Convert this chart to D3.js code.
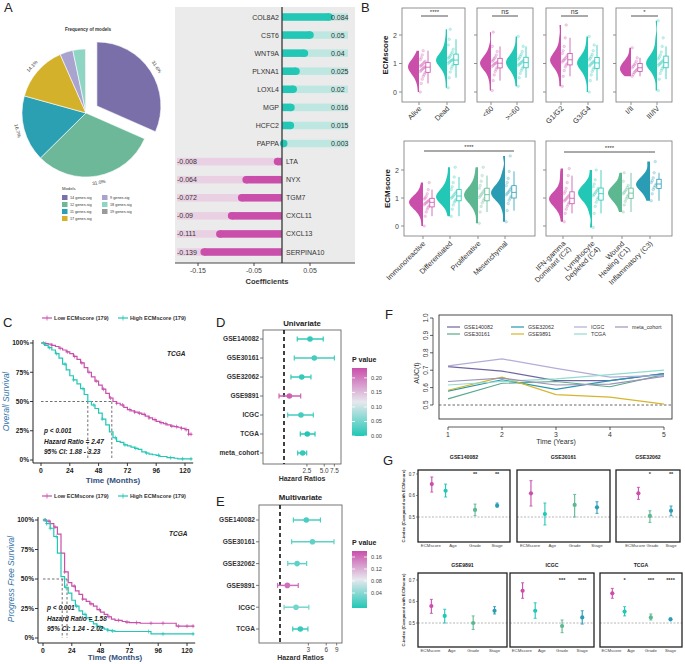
<!DOCTYPE html>
<html><head><meta charset="utf-8">
<script src="https://cdn.jsdelivr.net/npm/d3@7"></script>
<style>body{margin:0;background:#fff}svg{display:block;font-family:"Liberation Sans",Arial,sans-serif}</style>
</head><body><svg id="c" width="685" height="664"></svg>
<script>
// ===================== DATA =====================
// A – pie of model frequency
const pieModels = ["14 genes.sig","12 genes.sig","11 genes.sig","17 genes.sig","9 genes.sig","18 genes.sig","19 genes.sig"];
const piePercent = [31.6, 31.0, 16.7, 14.1, 3.3, 3.2, 0.1];
// A – coefficients
const coefGenes = ["COL8A2","CST6","WNT9A","PLXNA1","LOXL4","MGP","HCFC2","PAPPA","LTA","NYX","TGM7","CXCL11","CXCL13","SERPINA10"];
const coefValues = [0.084,0.05,0.04,0.025,0.02,0.016,0.015,0.003,-0.008,-0.064,-0.072,-0.09,-0.111,-0.139];
const coefTicks = [-0.15,-0.05,0.05];
// B – ECMscore samples (estimated)
const scoreAlive = [0.0,0.3,0.45,0.55,0.62,0.68,0.72,0.76,0.8,0.83,0.86,0.88,0.9,0.93,0.96,1.0,1.04,1.08,1.13,1.2,1.3,1.45];
const scoreDead = [0.15,0.5,0.7,0.82,0.9,0.96,1.0,1.04,1.08,1.1,1.12,1.15,1.18,1.22,1.27,1.33,1.4,1.5,1.65,1.85,2.2];
const scoreLt60 = [0.05,0.4,0.6,0.72,0.8,0.86,0.9,0.94,0.98,1.0,1.02,1.05,1.08,1.12,1.17,1.22,1.3,1.42,1.6,2.1];
const scoreGe60 = [0.2,0.5,0.65,0.75,0.82,0.88,0.93,0.97,1.0,1.03,1.06,1.1,1.14,1.19,1.25,1.32,1.42,1.6,1.95];
const scoreG12 = [0.2,0.55,0.75,0.88,0.95,1.0,1.05,1.1,1.13,1.17,1.22,1.28,1.35,1.45,1.6,1.9,2.35];
const scoreG34 = [0.0,0.4,0.6,0.72,0.8,0.86,0.91,0.95,0.99,1.02,1.05,1.09,1.13,1.18,1.24,1.32,1.45,1.65,1.95];
const scoreS12 = [0.55,0.62,0.68,0.72,0.76,0.8,0.85,0.9,0.95,1.0,1.08,1.2,1.55];
const scoreS34 = [0.05,0.45,0.65,0.75,0.82,0.88,0.93,0.97,1.0,1.03,1.07,1.11,1.16,1.22,1.3,1.4,1.6,1.9,2.5];
const scoreImmuno = [0.0,0.35,0.5,0.6,0.67,0.72,0.76,0.8,0.83,0.86,0.89,0.92,0.96,1.0,1.06,1.15,1.3,1.55];
const scoreDiff = [0.35,0.6,0.75,0.85,0.9,0.95,0.99,1.03,1.07,1.12,1.17,1.22,1.3,1.4,1.55,1.75,2.1];
const scoreProlif = [0.1,0.5,0.7,0.82,0.9,0.97,1.02,1.07,1.12,1.17,1.22,1.28,1.35,1.45,1.6,1.8,2.1];
const scoreMesen = [0.15,0.55,0.8,0.92,1.0,1.06,1.11,1.16,1.2,1.25,1.3,1.36,1.44,1.55,1.7,1.95,2.5];
const scoreIFN = [0.15,0.45,0.6,0.7,0.78,0.84,0.89,0.93,0.97,1.01,1.05,1.1,1.16,1.24,1.35,1.55,1.8,2.05];
const scoreLymph = [-0.05,0.45,0.7,0.85,0.95,1.02,1.08,1.13,1.18,1.23,1.28,1.34,1.4,1.5,1.65,2.0];
const scoreWound = [0.5,0.75,0.88,0.97,1.04,1.1,1.15,1.2,1.25,1.3,1.37,1.45,1.6,1.9];
const scoreInflam = [0.9,1.15,1.3,1.38,1.44,1.5,1.55,1.62,1.72,1.9,2.3];
// C – Kaplan-Meier (months, survival)
const kmTime = [0,3,6,9,12,15,18,21,24,27,30,33,36,39,42,45,48,51,54,57,60,63,66,69,72,75,78,81,84,87,90,93,96,99,102,105,108,111,114,117,120,123,126];
const osLow = [1,0.995,0.99,0.98,0.97,0.955,0.94,0.925,0.91,0.885,0.86,0.83,0.79,0.75,0.71,0.675,0.64,0.605,0.57,0.53,0.5,0.485,0.47,0.45,0.43,0.42,0.41,0.4,0.39,0.375,0.36,0.345,0.33,0.32,0.31,0.3,0.29,0.285,0.28,0.27,0.26,0.22,0.22];
const osHigh = [1,0.98,0.96,0.94,0.91,0.87,0.82,0.77,0.72,0.685,0.65,0.61,0.56,0.5,0.47,0.44,0.4,0.35,0.3,0.24,0.19,0.16,0.15,0.13,0.12,0.11,0.1,0.09,0.07,0.06,0.05,0.045,0.04,0.03,0.03,0.02,0.02,0.015,0.01,0.01,0.01,0.01,0.01];
const pfsLow = [1,0.99,0.97,0.94,0.88,0.72,0.56,0.47,0.44,0.4,0.37,0.33,0.31,0.29,0.27,0.24,0.22,0.2,0.18,0.16,0.15,0.15,0.14,0.135,0.13,0.13,0.13,0.125,0.125,0.125,0.125,0.125,0.125,0.125,0.125,0.125,0.125,0.1,0.1,0.1,0.1,0.1,0.1];
const pfsHigh = [1,0.97,0.93,0.86,0.72,0.52,0.43,0.38,0.32,0.27,0.23,0.2,0.17,0.14,0.12,0.1,0.085,0.075,0.065,0.06,0.055,0.055,0.055,0.055,0.055,0.055,0.055,0.055,0.055,0.055,0.035,0.035,0.035,0.035,0.035,0.035,0.035,0.035,0.035,0.035,0.035,0.035,0.035];
const osLowCensor = [4,9,16,22,28,34,40,46,52,58,63,68,74,78,82,86,90,95,100,104,109,113,117,121,123,125];
const osHighCensor = [2,7,13,20,27,35,44,51,62,70,79,88,98,108,118,125];
const pfsLowCensor = [2,5,10,18,26,33,40,47,55,63,70,78,90,100,113,120,125];
const pfsHighCensor = [1,3,6,11,19,28,35,45,54,58,88,100,125];
const kmTicks = [0,24,48,72,96,120];
const kmPctTicks = [0,0.25,0.5,0.75,1];
// D – univariate Cox
const uniCohorts = ["GSE140082","GSE30161","GSE32062","GSE9891","ICGC","TCGA","meta_cohort"];
const uniHR = [2.83,3.36,2.03,1.24,1.97,2.54,2.11];
const uniLow = [1.70,1.51,1.32,0.82,1.16,1.92,1.73];
const uniHigh = [4.8,7.5,2.94,1.95,3.23,3.46,2.48];
const uniP = [0.01,0.02,0.01,0.22,0.02,0.0,0.01];
const uniTicks = [2.5,5.0,7.5];
const uniPTicks = [0.0,0.05,0.1,0.15,0.2];
// E – multivariate Cox
const multiCohorts = ["GSE140082","GSE30161","GSE32062","GSE9891","ICGC","TCGA"];
const multiHR = [2.77,3.52,1.94,1.33,1.86,2.2];
const multiLow = [1.68,1.57,1.35,0.91,1.17,1.64];
const multiHigh = [4.79,8.1,2.81,2.03,3.06,2.95];
const multiP = [0.01,0.02,0.02,0.16,0.03,0.0];
const multiTicks = [3,6,9];
const multiPTicks = [0.04,0.08,0.12,0.16];
// F – time-dependent AUC
const aucYears = [1,2,3,4,5];
const aucGSE140082 = [0.72,0.695,0.64,0.64,0.68];
const aucGSE30161 = [0.535,0.625,0.635,0.605,0.675];
const aucGSE32062 = [0.58,0.645,0.59,0.64,0.68];
const aucGSE9891 = [0.585,0.66,0.56,0.545,0.505];
const aucICGC = [0.725,0.765,0.71,0.66,0.67];
const aucTCGA = [0.615,0.635,0.65,0.675,0.70];
const aucMeta = [0.635,0.655,0.615,0.62,0.665];
const aucTicks = [0.5,0.6,0.7,0.8,0.9,1.0];
// G – C-index comparison
const gCohorts = ["GSE140082","GSE30161","GSE32062","GSE9891","ICGC","TCGA"];
const gVars = [["ECMscore","Age","Grade","Stage"],["ECMscore","Age","Grade","Stage"],["ECMscore","Grade","Stage"],["ECMscore","Age","Grade","Stage"],["ECMscore","Age","Grade","Stage"],["ECMscore","Age","Grade","Stage"]];
const gEst = [[0.653,0.622,0.533,0.553],[0.61,0.514,0.556,0.545],[0.61,0.505,0.529],[0.579,0.533,0.50,0.557],[0.65,0.557,0.486,0.526],[0.638,0.553,0.526,0.517]];
const gLow = [[0.616,0.593,0.506,0.546],[0.551,0.463,0.50,0.517],[0.582,0.475,0.506],[0.545,0.50,0.47,0.542],[0.615,0.522,0.455,0.495],[0.615,0.533,0.514,0.511]];
const gHigh = [[0.686,0.653,0.56,0.565],[0.669,0.565,0.605,0.571],[0.638,0.529,0.551],[0.61,0.564,0.533,0.576],[0.687,0.594,0.514,0.557],[0.661,0.576,0.542,0.523]];
const gSig = [["","","**","**"],["","","",""],["","*","**"],["","","",""],["","","***","****"],["","*","***","****"]];
const gTicks = [0.5,0.6,0.7];

// ===================== STYLE =====================
const PINK="#c94fab", TEAL="#22c7b5", SAGE="#5db892", BLUE="#2a9db5";
const pieColors = ["#7b6fa9","#6cb899","#2ba0b3","#d3b12b","#a9a3d0","#8fd5c4","#9a9a9a"];
const svg = d3.select("#c");
svg.append("rect").attr("width",685).attr("height",664).attr("fill","#fff");

function txt(g,x,y,s,o={}){
  const t=g.append("text").attr("x",x).attr("y",y).text(s)
    .attr("font-size",o.size||7).attr("fill",o.fill||"#222");
  if(o.anchor) t.attr("text-anchor",o.anchor);
  if(o.weight) t.attr("font-weight",o.weight);
  if(o.style) t.attr("font-style",o.style);
  if(o.rotate!=null) t.attr("transform",`rotate(${o.rotate},${x},${y})`);
  return t;
}
function line(g,x1,y1,x2,y2,col,w,dash){
  const l=g.append("line").attr("x1",x1).attr("y1",y1).attr("x2",x2).attr("y2",y2)
   .attr("stroke",col||"#333").attr("stroke-width",w||1);
  if(dash) l.attr("stroke-dasharray",dash);
  return l;
}
// panel letters
[["A",4,12],["B",361,12],["C",3,327],["D",216,327],["E",216,506],["F",385,319],["G",383,465]]
  .forEach(([s,x,y])=>txt(svg,x,y,s,{size:13,fill:"#222"}));

// ===================== A: PIE =====================
{
  const g=svg.append("g").attr("transform","translate(86,113)");
  const arcs=d3.pie().sort(null).value(d=>d)(piePercent);
  const arc=d3.arc().innerRadius(0).outerRadius(64);
  arcs.forEach((a,i)=>{
    const mid=(a.startAngle+a.endAngle)/2, off=i===0?13:0;
    const dx=Math.sin(mid)*off, dy=-Math.cos(mid)*off;
    g.append("path").attr("d",arc(a)).attr("transform",`translate(${dx},${dy})`)
      .attr("fill",pieColors[i]).attr("stroke","#fff").attr("stroke-width",0.6);
    if(piePercent[i]>10){
      const r=71+off, lx=Math.sin(mid)*r, ly=-Math.cos(mid)*r;
      let deg=mid*180/Math.PI; if(deg>90&&deg<270) deg-=180;
      txt(g,lx,ly,d3.format(".1f")(piePercent[i])+"%",{size:4.8,anchor:"middle",fill:"#333",rotate:deg})
        .attr("dominant-baseline","middle");
    }
  });
  txt(svg,88,31,"Frequency of models",{size:4.6,weight:"bold",anchor:"middle",fill:"#333"});
  txt(svg,62,190,"Models",{size:4.2,fill:"#333"});
  pieModels.forEach((m,i)=>{
    const col=i<4?0:1, row=i<4?i:i-4;
    const x=col?102:62, y=195+row*7;
    svg.append("rect").attr("x",x).attr("y",y).attr("width",5.5).attr("height",5).attr("fill",pieColors[i]);
    txt(svg,x+8,y+4,m,{size:3.8,fill:"#333"});
  });
  line(svg,180,85,212,85,"#222",0.9);
  svg.append("path").attr("d","M216,85 L210,82.5 L210,87.5 Z").attr("fill","#222");
}

// ===================== A: COEFFICIENTS =====================
{
  const g=svg.append("g");
  const x=d3.scaleLinear().domain([-0.15,0.05]).range([198,310]);
  const y=d3.scalePoint().domain(coefGenes).range([17,252]);
  g.append("rect").attr("x",175).attr("y",7).attr("width",180).attr("height",256).attr("fill","#ebebeb");
  const bh=7.5;
  coefGenes.forEach((gn,i)=>{
    const v=coefValues[i], yy=y(gn);
    if(v>=0){
      g.append("rect").attr("x",x(0)).attr("y",yy-bh/2).attr("width",348-x(0)).attr("height",bh).attr("fill","#bfe7e1");
      g.append("rect").attr("x",x(0)).attr("y",yy-bh/2).attr("width",x(v)-x(0)).attr("height",bh).attr("fill",TEAL);
      g.append("circle").attr("cx",x(v)).attr("cy",yy).attr("r",bh/2).attr("fill",TEAL);
      txt(g,279,yy+2.5,gn,{size:7,anchor:"end",fill:"#333"});
      txt(g,331,yy+2.5,String(v),{size:7,fill:"#333"});
    } else {
      g.append("rect").attr("x",177).attr("y",yy-bh/2).attr("width",x(0)-177).attr("height",bh).attr("fill","#ead0e3");
      g.append("rect").attr("x",x(v)).attr("y",yy-bh/2).attr("width",x(0)-x(v)).attr("height",bh).attr("fill",PINK);
      g.append("circle").attr("cx",x(v)).attr("cy",yy).attr("r",bh/2).attr("fill",PINK);
      txt(g,286,yy+2.5,gn,{size:7,fill:"#333"});
      txt(g,177,yy+2.5,String(v),{size:7,fill:"#333"});
    }
  });
  line(g,x(0),7,x(0),263,"#444",1.4);
  line(g,175,263,355,263,"#333",0.9);
  coefTicks.forEach(t=>{
    line(g,x(t),263,x(t),266,"#333",0.9);
    txt(g,x(t),273,String(t),{size:7,anchor:"middle",fill:"#444"});
  });
  txt(g,267,284,"Coefficients",{size:7.5,weight:"bold",anchor:"middle",fill:"#333"});
}

// ===================== B: RAINCLOUDS =====================
function drawRain(f,yS,y0,y1,halfW){
  const g=svg.append("g");
  g.append("rect").attr("x",f.x0).attr("y",y0).attr("width",f.x1-f.x0).attr("height",y1-y0)
    .attr("fill","none").attr("stroke","#777").attr("stroke-width",0.8);
  [0,1,2].forEach(v=>{
    line(g,f.x0-3,yS(v),f.x0,yS(v),"#777",0.8);
    if(f.yTitle) txt(g,f.x0-5,yS(v)+2.5,String(v),{size:7,anchor:"end",fill:"#444"});
  });
  if(f.yTitle) txt(g,f.x0-14,(y0+y1)/2,"ECMscore",{size:8,weight:"bold",anchor:"middle",rotate:-90,fill:"#222"});
  f.groups.forEach((vals,i)=>{
    const cx=f.ticks[i], col=f.colors[i];
    const ext=d3.extent(vals), bw=0.17;
    const step=(ext[1]-ext[0])/40;
    const grid=d3.range(0,41).map(k=>ext[0]+k*step);
    const dens=grid.map(v=>[v,d3.sum(vals,u=>Math.exp(-0.5*((v-u)/bw)**2))]);
    const mx=d3.max(dens,d=>d[1]);
    const area=d3.area().y(d=>yS(d[0])).x0(cx).x1(d=>cx-halfW*d[1]/mx).curve(d3.curveBasis);
    g.append("path").attr("d",area(dens)).attr("fill",col);
    vals.forEach((v,j)=>{
      g.append("circle").attr("cx",cx+1.2+((j*7)%6)).attr("cy",yS(v)).attr("r",1.3)
        .attr("fill",col).attr("fill-opacity",0.22).attr("stroke",col).attr("stroke-opacity",0.5).attr("stroke-width",0.4);
    });
    const s=vals.slice().sort(d3.ascending);
    const q1=d3.quantile(s,0.25),q2=d3.quantile(s,0.5),q3=d3.quantile(s,0.75),iqr=q3-q1;
    const lo=d3.min(s.filter(v=>v>=q1-1.5*iqr)), hi=d3.max(s.filter(v=>v<=q3+1.5*iqr));
    const bx=cx+9;
    line(g,bx,yS(lo),bx,yS(hi),col,0.8);
    g.append("rect").attr("x",bx-2.2).attr("y",yS(q3)).attr("width",4.4).attr("height",yS(q1)-yS(q3))
      .attr("fill","#fff").attr("stroke",col).attr("stroke-width",0.8);
    line(g,bx-2.2,yS(q2),bx+2.2,yS(q2),col,0.8);
    line(g,cx,y1,cx,y1+3,"#777",0.8);
    const lab=f.labels[i];
    const t=g.append("text").attr("transform",`translate(${cx+3},${y1+(f.labOff||7)}) rotate(-45)`)
      .attr("text-anchor","end").attr("font-size",7.3).attr("fill","#333");
    lab.split("\n").forEach((ln,k)=>t.append("tspan").attr("x",0).attr("dy",k?"1.05em":0).text(ln));
  });
  const sx0=f.sig[0], sx1=f.sig[1], sy=f.sig[2];
  line(g,sx0,sy,sx1,sy,"#555",1);
  txt(g,(sx0+sx1)/2,sy-2.5,f.sig[3],{size:f.sig[3]==="ns"?7:6,anchor:"middle",fill:"#333"});
}
{
  const yTop=d3.scaleLinear().domain([0,2]).range([92,35]);
  const yBot=d3.scaleLinear().domain([0,2]).range([226,170]);
  const top=[
    {x0:402,x1:465,ticks:[419,447],groups:[scoreAlive,scoreDead],labels:["Alive","Dead"],colors:[PINK,TEAL],sig:[421,448,16,"****"],yTitle:true},
    {x0:477,x1:533,ticks:[491,517],groups:[scoreLt60,scoreGe60],labels:["<60",">=60"],colors:[PINK,TEAL],sig:[492,518,16,"ns"]},
    {x0:546,x1:603,ticks:[561,588],groups:[scoreG12,scoreG34],labels:["G1/G2","G3/G4"],colors:[PINK,TEAL],sig:[561,588,16,"ns"]},
    {x0:616,x1:672,ticks:[631,657],groups:[scoreS12,scoreS34],labels:["I/II","III/IV"],colors:[PINK,TEAL],sig:[631,658,16,"*"]}
  ];
  top.forEach(f=>drawRain(f,yTop,8,102,11));
  const bot=[
    {x0:404,x1:535,ticks:[423,450,478,505],groups:[scoreImmuno,scoreDiff,scoreProlif,scoreMesen],
      labels:["Immunoreactive","Differentiated","Proliferative","Mesenchymal"],colors:[PINK,TEAL,SAGE,BLUE],sig:[424,514,151,"****"],yTitle:true,labOff:8},
    {x0:546,x1:672,ticks:[563,592,622,650],groups:[scoreIFN,scoreLymph,scoreWound,scoreInflam],
      labels:["IFN-gamma\nDominant (C2)","Lymphocyte\nDepleted (C4)","Wound\nHealing (C1)","Inflammatory (C3)"],colors:[PINK,TEAL,SAGE,BLUE],sig:[564,655,152,"****"],labOff:8}
  ];
  bot.forEach(f=>drawRain(f,yBot,141,236,14));
}

// ===================== C: KAPLAN-MEIER =====================
function kmLegend(g,y){
  [[42,PINK,"Low ECMscore (179)"],[118,TEAL,"High ECMscore (179)"]].forEach(([x,c,s])=>{
    line(g,x,y-2,x+10,y-2,c,1.2);
    line(g,x+5,y-4.5,x+5,y+0.5,c,0.8);
    txt(g,x+12,y,s,{size:5.6,weight:"bold",fill:"#333"});
  });
}
function drawKM(o){
  const g=svg.append("g");
  const x=d3.scaleLinear().domain([0,120]).range(o.xr);
  const y=d3.scaleLinear().domain([0,1]).range(o.yr);
  line(g,o.ax,o.yr[1]-3,o.ax,o.ay,"#222",1);
  line(g,o.ax,o.ay,x(126)+1,o.ay,"#222",1);
  kmPctTicks.forEach(p=>{
    line(g,o.ax-3,y(p),o.ax,y(p),"#222",0.9);
    txt(g,o.ax-4,y(p)+2.4,d3.format(".0%")(p),{size:6.6,weight:"bold",anchor:"end",fill:"#222"});
  });
  kmTicks.forEach(t=>{
    line(g,x(t),o.ay,x(t),o.ay+3,"#222",0.9);
    txt(g,x(t),o.ay+10,String(t),{size:6.8,weight:"bold",anchor:"middle",fill:"#222"});
  });
  txt(g,(x(0)+x(120))/2,o.ay+o.tOff,"Time (Months)",{size:8,weight:"bold",anchor:"middle",fill:"#34507c"});
  txt(g,o.ax-24,(o.yr[0]+o.yr[1])/2,o.ytitle,{size:8.5,style:"italic",anchor:"middle",rotate:-90,fill:"#2f74a8"});
  const ym=y(0.5);
  line(g,x(0),ym,x(o.med[1]),ym,"#333",0.7,"2.5,2");
  line(g,x(o.med[0]),ym,x(o.med[0]),o.yr[0],"#333",0.7,"2.5,2");
  line(g,x(o.med[1]),ym,x(o.med[1]),o.yr[0],"#333",0.7,"2.5,2");
  const path=d3.line().x(d=>x(d[0])).y(d=>y(d[1])).curve(d3.curveStepAfter);
  const stepAt=(arr,t)=>{let k=0;kmTime.forEach((tt,i)=>{if(tt<=t)k=i;});return arr[k];};
  [[o.low,o.lowC,PINK],[o.high,o.highC,TEAL]].forEach(([arr,cen,c])=>{
    g.append("path").attr("d",path(kmTime.map((t,i)=>[t,arr[i]]))).attr("fill","none").attr("stroke",c).attr("stroke-width",1.2);
    cen.forEach(t=>{const cy=y(stepAt(arr,t)),cx=x(t);
      line(g,cx,cy-2,cx,cy+2,c,0.7); line(g,cx-1.6,cy,cx+1.6,cy,c,0.7);});
  });
  txt(g,o.tcga[0],o.tcga[1],"TCGA",{size:6.5,weight:"bold",style:"italic",fill:"#222"});
  o.stats.forEach((s,i)=>txt(g,o.st[0],o.st[1]+i*10.6,s,{size:6.5,weight:"bold",style:"italic",fill:"#222"}));
}
{
  kmLegend(svg,320);
  drawKM({xr:[41,185],yr:[460,343],ax:33,ay:463,tOff:20,ytitle:"Overall Survival",low:osLow,high:osHigh,lowC:osLowCensor,highC:osHighCensor,
    med:[39,59],tcga:[167,356],st:[44,433],stats:["p < 0.001","Hazard Ratio = 2.47","95% CI: 1.88 - 3.23"]});
  kmLegend(svg,498);
  drawKM({xr:[43,187],yr:[638,520],ax:38,ay:643,tOff:17,ytitle:"Progress Free Survival",low:pfsLow,high:pfsHigh,lowC:pfsLowCensor,highC:pfsHighCensor,
    med:[16,20],tcga:[169,536],st:[47,610],stats:["p < 0.001","Hazard Ratio = 1.58","95% CI: 1.24 - 2.02"]});
}

// ===================== D / E: FORESTS =====================
function drawForest(o){
  const g=svg.append("g");
  txt(g,(o.fx0+o.fx1)/2,o.titleY,o.title,{size:7.8,weight:"bold",anchor:"middle",fill:"#222"});
  g.append("rect").attr("x",o.fx0).attr("y",o.fy0).attr("width",o.fx1-o.fx0).attr("height",o.fy1-o.fy0)
    .attr("fill","none").attr("stroke","#666").attr("stroke-width",0.9);
  const x=d3.scaleLog().domain([1,o.tickMax]).range([o.x1,o.x1+o.pxPerLn*Math.log(o.tickMax)]);
  const y=d3.scalePoint().domain(o.cohorts).range(o.yr);
  const pcol=d3.scaleLinear().domain([o.pmin,(o.pmin+o.pmax)/2,o.pmax]).range([TEAL,"#e6e8ee",PINK]);
  line(g,x(1),o.fy0,x(1),o.fy1,"#111",1.6,"4,3");
  o.cohorts.forEach((c,i)=>{
    const yy=y(c), col=pcol(o.p[i]);
    line(g,o.fx0-3,yy,o.fx0,yy,"#555",0.8);
    txt(g,o.fx0-4,yy+2.3,c,{size:6.6,weight:"bold",anchor:"end",fill:"#333"});
    line(g,x(o.lo[i]),yy,x(o.hi[i]),yy,col,1.5);
    line(g,x(o.lo[i]),yy-2.5,x(o.lo[i]),yy+2.5,col,1.2);
    line(g,x(o.hi[i]),yy-2.5,x(o.hi[i]),yy+2.5,col,1.2);
    g.append("circle").attr("cx",x(o.hr[i])).attr("cy",yy).attr("r",2.8).attr("fill",col);
  });
  o.ticks.forEach(t=>{
    line(g,x(t),o.fy1,x(t),o.fy1+2.5,"#555",0.8);
    txt(g,x(t),o.fy1+8.5,o.fmt(t),{size:6.4,anchor:"middle",fill:"#444"});
  });
  txt(g,(o.fx0+o.fx1)/2,o.fy1+17,"Hazard Ratios",{size:7,weight:"bold",anchor:"middle",fill:"#333"});
  const id="grad"+o.title;
  const gr=svg.append("defs").append("linearGradient").attr("id",id).attr("x1",0).attr("y1",0).attr("x2",0).attr("y2",1);
  gr.append("stop").attr("offset","0%").attr("stop-color",PINK);
  gr.append("stop").attr("offset","50%").attr("stop-color","#e6e8ee");
  gr.append("stop").attr("offset","100%").attr("stop-color",TEAL);
  const ly=d3.scaleLinear().domain([o.pmin,o.pmax]).range([o.lb[1],o.lb[0]]);
  txt(g,352,o.lb[0]-6,"P value",{size:7,weight:"bold",fill:"#222"});
  g.append("rect").attr("x",352).attr("y",o.lb[0]).attr("width",15).attr("height",o.lb[1]-o.lb[0]).attr("fill",`url(#${id})`);
  o.pticks.forEach(p=>{
    line(g,352,ly(p),355,ly(p),"#fff",0.8); line(g,364,ly(p),367,ly(p),"#fff",0.8);
    txt(g,371,ly(p)+2,d3.format(".2f")(p),{size:5.6,fill:"#444"});
  });
}
drawForest({title:"Univariate",titleY:326,fx0:263,fx1:341,fy0:330,fy1:464,x1:284,pxPerLn:25,tickMax:7.5,
  cohorts:uniCohorts,hr:uniHR,lo:uniLow,hi:uniHigh,p:uniP,yr:[339,453],ticks:uniTicks,fmt:d3.format(".1f"),
  pmin:0,pmax:0.234,lb:[368,436],pticks:uniPTicks});
drawForest({title:"Multivariate",titleY:500,fx0:259,fx1:342,fy0:505,fy1:643,x1:280,pxPerLn:25.8,tickMax:9,
  cohorts:multiCohorts,hr:multiHR,lo:multiLow,hi:multiHigh,p:multiP,yr:[520,629],ticks:multiTicks,fmt:d3.format("d"),
  pmin:-0.01,pmax:0.18,lb:[551,608],pticks:multiPTicks});

// ===================== F: AUC =====================
{
  const g=svg.append("g");
  const x=d3.scaleLinear().domain([1,5]).range([448,664]);
  const y=d3.scaleLinear().domain([0.5,1]).range([405,318]);
  g.append("rect").attr("x",439).attr("y",315).attr("width",233).attr("height",104).attr("fill","none").attr("stroke","#333").attr("stroke-width",0.9);
  line(g,433,y(0.5),433,y(1),"#333",0.8);
  aucTicks.forEach(t=>{line(g,430,y(t),433,y(t),"#333",0.8);
    txt(g,428,y(t),d3.format(".1f")(t),{size:6.5,anchor:"middle",rotate:-90,fill:"#333"});});
  line(g,x(1),427,x(5),427,"#333",0.8);
  aucYears.forEach(t=>{line(g,x(t),427,x(t),430,"#333",0.8);
    txt(g,x(t),437,String(t),{size:6.8,anchor:"middle",fill:"#333"});});
  txt(g,556,444,"Time (Years)",{size:7,anchor:"middle",fill:"#333"});
  txt(g,419,373,"AUC(t)",{size:7,anchor:"middle",rotate:-90,fill:"#333"});
  line(g,439,y(0.5),672,y(0.5),"#555",0.9,"2.5,2");
  const series=[["GSE140082",aucGSE140082,"#6f66a0"],["GSE30161",aucGSE30161,"#5aa98a"],["GSE32062",aucGSE32062,"#2a96ad"],
    ["GSE9891",aucGSE9891,"#d6b52a"],["ICGC",aucICGC,"#b5acd6"],["TCGA",aucTCGA,"#92dbcf"],["meta_cohort",aucMeta,"#9c94b9"]];
  const lp=d3.line().x((d,i)=>x(aucYears[i])).y(d=>y(d));
  series.forEach(([n,v,c])=>g.append("path").attr("d",lp(v)).attr("fill","none").attr("stroke",c).attr("stroke-width",1.2));
  const pos={"GSE140082":[447,327],"GSE32062":[511,327],"ICGC":[574,327],"meta_cohort":[615,327],"GSE30161":[447,334],"GSE9891":[511,334],"TCGA":[574,334]};
  series.forEach(([n,v,c])=>{const [lx,ly]=pos[n];
    line(g,lx,ly,lx+13,ly,c,1.2); txt(g,lx+17,ly+2,n,{size:5.3,fill:"#333"});});
}

// ===================== G: C-INDEX =====================
{
  const frames=[[418,510,470,542,459],[517,610,470,542,459],[616,680,470,542,459],
                [418,507,573,647,567],[510,594,573,647,567],[600,682,573,647,567]];
  const varCol={ECMscore:PINK,Age:TEAL,Grade:SAGE,Stage:BLUE};
  gCohorts.forEach((c,ci)=>{
    const [x0,x1,y0,y1,ty]=frames[ci];
    const g=svg.append("g");
    const y=d3.scaleLinear().domain([0.5,0.6]).range(ci<3?[517,495.5]:[623,601.5]);
    const four=gVars[ci].length===4;
    const fr=four?[0.15,0.3,0.62,0.86]:[0.35,0.53,0.86];
    const lf=four?[0.14,0.38,0.62,0.86]:[0.3,0.57,0.86];
    txt(g,(x0+x1)/2,ty,c,{size:5.2,weight:"bold",anchor:"middle",fill:"#222"});
    line(g,x0,y(0.5),x1,y(0.5),"#999",0.7,"2,1.5");
    g.append("rect").attr("x",x0).attr("y",y0).attr("width",x1-x0).attr("height",y1-y0).attr("fill","none").attr("stroke","#222").attr("stroke-width",1.3);
    if(ci===0||ci===3){
      gTicks.forEach(t=>{line(g,x0-2,y(t),x0,y(t),"#444",0.6);
        txt(g,x0-3,y(t)+1.5,d3.format(".1f")(t),{size:4.5,anchor:"end",fill:"#333"});});
      txt(g,x0-13,(y0+y1)/2,"C-index (Compared with ECMscore)",{size:4.3,weight:"bold",anchor:"middle",rotate:-90,fill:"#333"});
    }
    gVars[ci].forEach((v,k)=>{
      const px=x0+fr[k]*(x1-x0), col=varCol[v];
      line(g,px,y(gLow[ci][k]),px,y(gHigh[ci][k]),col,1.1);
      line(g,px-1.5,y(gLow[ci][k]),px+1.5,y(gLow[ci][k]),col,0.9);
      line(g,px-1.5,y(gHigh[ci][k]),px+1.5,y(gHigh[ci][k]),col,0.9);
      g.append("circle").attr("cx",px).attr("cy",y(gEst[ci][k])).attr("r",2.1).attr("fill",col);
      txt(g,x0+lf[k]*(x1-x0),y1+5,v,{size:4.3,anchor:"middle",fill:"#444"});
      if(gSig[ci][k]) txt(g,px,y(0.7)+2,gSig[ci][k],{size:5.5,weight:"bold",anchor:"middle",fill:"#333"});
    });
  });
}
</script></body></html>
